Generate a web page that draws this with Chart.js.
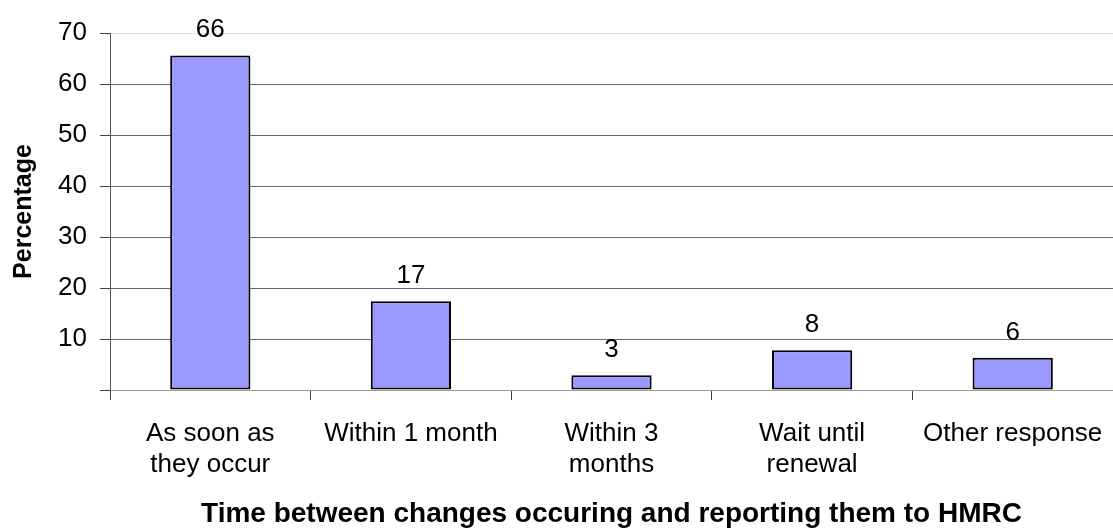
<!DOCTYPE html>
<html>
<head>
<meta charset="utf-8">
<script src="https://cdn.jsdelivr.net/npm/chart.js@4.4.1/dist/chart.umd.min.js"></script>
<style>
  html, body { margin: 0; padding: 0; background: #ffffff; }
  #wrap { width: 1113px; height: 531px; }
</style>
</head>
<body>
<div id="wrap"><canvas id="c" width="1113" height="531"></canvas></div>
<script>
const categories = [['As soon as', 'they occur'], 'Within 1 month', ['Within 3', 'months'], ['Wait until', 'renewal'], 'Other response'];
const values = [65.6, 17.4, 2.9, 7.8, 6.3];
const yMin = 0;
const yMax = 70;
const yStep = 10;
const xTitle = 'Time between changes occuring and reporting them to HMRC';
const yTitle = 'Percentage';

Chart.defaults.font.family = "'Liberation Sans', Arial, Helvetica, sans-serif";
Chart.defaults.color = '#000000';

const valueLabels = {
  id: 'valueLabels',
  afterDatasetsDraw(chart) {
    const ctx = chart.ctx;
    const meta = chart.getDatasetMeta(0);
    ctx.save();
    ctx.font = "26px 'Liberation Sans', Arial, sans-serif";
    ctx.fillStyle = '#000000';
    ctx.textAlign = 'center';
    ctx.textBaseline = 'alphabetic';
    meta.data.forEach((bar, i) => {
      ctx.fillText(String(Math.round(values[i])), bar.x, bar.y - 18);
    });
    ctx.restore();
  }
};

new Chart(document.getElementById('c'), {
  type: 'bar',
  data: {
    labels: categories,
    datasets: [{
      data: values,
      backgroundColor: '#9999FF',
      borderColor: '#000000',
      borderWidth: 2,
      borderSkipped: false,
      barPercentage: 0.4,
      categoryPercentage: 1.0
    }]
  },
  options: {
    responsive: false,
    devicePixelRatio: 1,
    animation: false,
    layout: { padding: { top: 33, right: 0, bottom: 0, left: 0 } },
    plugins: {
      legend: { display: false },
      tooltip: { enabled: false }
    },
    scales: {
      x: {
        offset: true,
        grid: {
          display: true,
          offset: true,
          drawOnChartArea: false,
          drawTicks: true,
          tickLength: 10,
          tickColor: '#404040',
          tickWidth: 1
        },
        border: { display: true, color: '#9a9a9a', width: 1 },
        ticks: {
          font: { size: 26 },
          color: '#000000',
          padding: 18,
          maxRotation: 0,
          minRotation: 0,
          autoSkip: false
        },
        title: {
          display: true,
          text: xTitle,
          font: { size: 28, weight: 'bold' },
          color: '#000000',
          padding: { top: 0, bottom: 0 }
        },
        afterFit(s) {
          s.height = 141;
          s.paddingLeft = 0;
          s.paddingRight = 0;
        }
      },
      y: {
        min: yMin,
        max: yMax,
        ticks: {
          stepSize: yStep,
          font: { size: 26 },
          color: '#000000',
          padding: 13,
          callback: (v) => (v === 0 ? '' : String(v))
        },
        grid: {
          color: (c) => (c.tick && c.tick.value === yMax ? '#dedede' : '#666666'),
          lineWidth: 1,
          drawTicks: true,
          tickLength: 10,
          tickColor: '#404040'
        },
        border: { display: true, color: '#555555', width: 1 },
        title: {
          display: true,
          text: yTitle,
          font: { size: 25, weight: 'bold' },
          color: '#000000',
          padding: { top: 9, bottom: 0 }
        },
        afterFit(s) {
          s.width = 110;
          s.paddingTop = 0;
          s.paddingBottom = 0;
        }
      }
    }
  },
  plugins: [valueLabels]
});
</script>
</body>
</html>
